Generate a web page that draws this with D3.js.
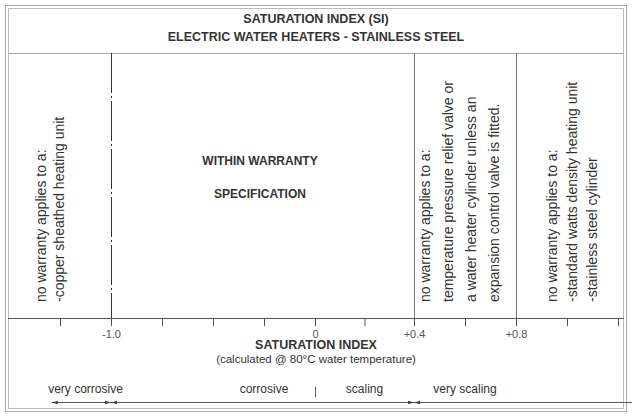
<!DOCTYPE html><html><head><meta charset="utf-8"><script src="https://cdn.jsdelivr.net/npm/d3@7"></script>
<style>body{margin:0;background:#fff}text{font-family:"Liberation Sans",Arial,sans-serif;fill:#333}</style></head><body><svg id="c" width="632" height="418"></svg><script>
const titleLines=["SATURATION INDEX (SI)","ELECTRIC WATER HEATERS - STAINLESS STEEL"];
const tickValues=[-1.25,-1,-0.75,-0.5,-0.25,0,0.2,0.4,0.6,0.8,1.0,1.2];
const labeledTicks={"-1":"-1.0","0":"0","0.4":"+0.4","0.8":"+0.8"};
const boundaries=[-1,0.4,0.8];
const zoneTexts=[
 {at:-1.3,lines:["no warranty applies to a:","-copper sheathed heating unit"]},
 {at:0.58,lines:["no warranty applies to a:","temperature pressure relief valve or","a water heater cylinder unless an","expansion control valve is fitted."]},
 {at:1.02,lines:["no warranty applies to a:","-standard watts density heating unit","-stainless steel cylinder"]}];
const ranges=[{from:-1.29,to:-1,label:"very corrosive",lx:-1.125},{from:-1,to:0.4,label:"corrosive",lx:-0.25},{from:0.4,to:1.28,label:"very scaling",lx:0.6}];
const scalingLabel={label:"scaling",at:0.2};
const svg=d3.select("#c"),g="#555";
const x=d3.scaleLinear().domain([-1.25,0,0.4,0.8]).range([60,315,414,516]);
svg.append("defs").append("marker").attr("id","a").attr("viewBox","0 0 10 10").attr("refX",10).attr("refY",5).attr("markerWidth",8).attr("markerHeight",6).attr("orient","auto-start-reverse").append("path").attr("d","M0,2L10,5L0,8z").attr("fill","#444");
svg.append("rect").attr("x",5.5).attr("y",5.5).attr("width",621).attr("height",406).attr("fill","none").attr("stroke","#aaa");
svg.append("rect").attr("x",8.5).attr("y",8.5).attr("width",615).attr("height",400).attr("fill","none").attr("stroke","#bbb");
svg.append("line").attr("x1",8).attr("x2",624).attr("y1",53.5).attr("y2",53.5).attr("stroke","#aaa");
titleLines.forEach((t,i)=>svg.append("text").attr("x",316).attr("y",23+i*18).attr("text-anchor","middle").attr("font-size",12.5).attr("font-weight","bold").text(t));
const ax=svg.append("g").attr("transform","translate(0,318)").call(d3.axisBottom(x).tickValues(tickValues).tickSize(8).tickFormat(d=>labeledTicks[String(d)]||""));
ax.select(".domain").attr("d","M8,0.5H624").attr("stroke",g);
ax.selectAll(".tick line").attr("stroke",g);ax.selectAll(".tick text").attr("font-size",11).attr("dy","0.8em").attr("fill","#555").style("fill","#555");
boundaries.forEach((b,i)=>svg.append("line").attr("x1",x(b)+.5).attr("x2",x(b)+.5).attr("y1",53).attr("y2",318).attr("stroke",i==0?"#333":"#777").attr("stroke-dasharray",i==0?"40,3,2,3":null));
svg.append("text").attr("x",260).attr("y",165).attr("text-anchor","middle").attr("font-size",12).attr("font-weight","bold").text("WITHIN WARRANTY");
svg.append("text").attr("x",260).attr("y",198).attr("text-anchor","middle").attr("font-size",12).attr("font-weight","bold").text("SPECIFICATION");
const spacing=[18,23,20];
zoneTexts.forEach((z,k)=>{const n=z.lines.length;z.lines.forEach((l,i)=>{const cx=x(z.at)+(i-(n-1)/2)*spacing[k]+5;svg.append("text").attr("transform",`translate(${cx},302) rotate(-90)`).attr("font-size",14).text(l);});});
svg.append("text").attr("x",316).attr("y",349).attr("text-anchor","middle").attr("font-size",12.5).attr("font-weight","bold").text("SATURATION INDEX");
svg.append("text").attr("x",316).attr("y",363).attr("text-anchor","middle").attr("font-size",11.5).text("(calculated @ 80°C water temperature)");
ranges.forEach(r=>{svg.append("line").attr("x1",x(r.from)).attr("x2",x(r.to)).attr("y1",402.5).attr("y2",402.5).attr("stroke","#555").attr("marker-start","url(#a)").attr("marker-end","url(#a)");
svg.append("text").attr("x",x(r.lx)).attr("y",393).attr("text-anchor","middle").attr("font-size",12).text(r.label);});
svg.append("text").attr("x",x(scalingLabel.at)).attr("y",393).attr("text-anchor","middle").attr("font-size",12).text(scalingLabel.label);
svg.append("line").attr("x1",x(0)+.5).attr("x2",x(0)+.5).attr("y1",387).attr("y2",397).attr("stroke","#555");
</script></body></html>
